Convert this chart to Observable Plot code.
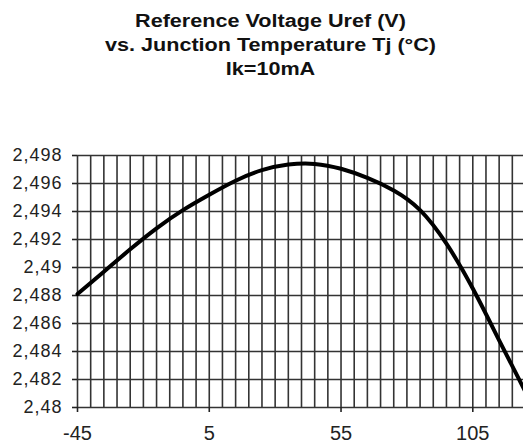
<!DOCTYPE html>
<html><head><meta charset="utf-8">
<script src="https://cdn.jsdelivr.net/npm/d3@7"></script>
<script src="https://cdn.jsdelivr.net/npm/@observablehq/plot@0.6"></script>
<style>
html,body{margin:0;padding:0;background:#fff;overflow:hidden;}
#title{width:523px;box-sizing:border-box;padding:9px 0 0 18px;height:90px;text-align:center;font:bold 18px/24px "Liberation Sans",Arial,sans-serif;color:#111;}
#title div{transform:scaleX(1.2);transform-origin:center;}
#chart g[aria-label="y-axis tick label"]{letter-spacing:1px;}
</style></head><body>
<div id="title"><div>Reference Voltage Uref (V)<br>vs. Junction Temperature Tj (°C)<br>Ik=10mA</div></div>
<div id="chart"></div>
<script>
const temps = [-45, -35, -25, -15, -5, 5, 15, 25, 35, 45, 55, 65, 75, 85, 95, 105, 115, 125];
const volts = [2.4881, 2.4897, 2.4913, 2.4928, 2.4941, 2.4952, 2.4962, 2.49695, 2.49735, 2.4974, 2.49705, 2.4964, 2.4955, 2.4941, 2.4917, 2.4885, 2.4848, 2.4811];
const yTicks = [2.48, 2.482, 2.484, 2.486, 2.488, 2.49, 2.492, 2.494, 2.496, 2.498];
const yTickLabels = ["2,48", "2,482", "2,484", "2,486", "2,488", "2,49", "2,492", "2,494", "2,496", "2,498"];
const xTicks = [-45, 5, 55, 105];
const xTickLabels = ["-45", "5", "55", "105"];
const xGrid = [-45, -40, -35, -30, -25, -20, -15, -10, -5, 0, 5, 10, 15, 20, 25, 30, 35, 40, 45, 50, 55, 60, 65, 70, 75, 80, 85, 90, 95, 100, 105, 110, 115, 120, 125];

const data = temps.map((t, i) => ({t, v: volts[i]}));
const yLab = new Map(yTicks.map((d, i) => [d, yTickLabels[i]]));
const xLab = new Map(xTicks.map((d, i) => [d, xTickLabels[i]]));

const chart = Plot.plot({
  width: 523, height: 354,
  marginLeft: 77, marginRight: -2, marginTop: 65, marginBottom: 37,
  style: {fontFamily: '"Liberation Sans", Arial, sans-serif', color: "#222", background: "#fff"},
  x: {domain: [-45, 125]},
  y: {domain: [2.48, 2.498]},
  marks: [
    Plot.ruleY(yTicks, {x1: -45, x2: 125, stroke: "#333", strokeWidth: 1.6}),
    Plot.ruleX(xGrid, {y1: 2.48, y2: 2.498, stroke: "#333", strokeWidth: 1.6}),
    Plot.axisY({ticks: yTicks, tickFormat: d => yLab.get(d), tickSize: 5, tickPadding: 10, fontSize: 18, label: null, strokeWidth: 1.6}),
    Plot.axisX({ticks: xTicks, tickFormat: d => xLab.get(d), tickSize: 5, tickPadding: 13, fontSize: 20, label: null, strokeWidth: 1.6}),
    Plot.line(data, {x: "t", y: "v", curve: "natural", stroke: "#000", strokeWidth: 4})
  ]
});
document.getElementById("chart").appendChild(chart);
</script>
</body></html>
